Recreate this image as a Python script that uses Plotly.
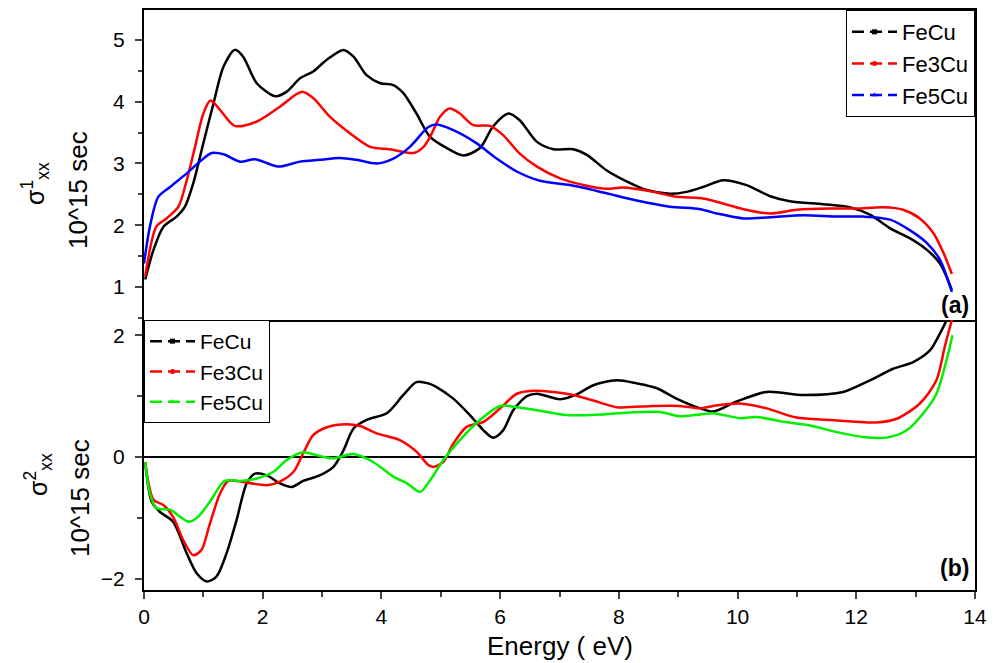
import plotly.graph_objects as go

# ---------------- data: panel (a) sigma1_xx ----------------
e_fecu_a = [0.02, 0.16, 0.33, 0.55, 0.69, 0.83, 1.0, 1.17, 1.34, 1.53, 1.67, 1.90, 2.21, 2.40, 2.63, 2.85, 3.08, 3.36, 3.53, 3.75, 3.98, 4.20, 4.37, 4.59, 4.82, 5.10, 5.38, 5.66, 5.88, 6.14, 6.33, 6.62, 6.90, 7.23, 7.46, 7.79, 8.13, 8.47, 8.86, 9.14, 9.42, 9.76, 10.15, 10.55, 10.88, 11.44, 11.89, 12.23, 12.57, 12.90, 13.19, 13.41, 13.61]
s1_fecu = [1.12, 1.6, 1.98, 2.14, 2.30, 2.68, 3.33, 3.97, 4.57, 4.84, 4.73, 4.30, 4.09, 4.16, 4.38, 4.49, 4.68, 4.84, 4.73, 4.43, 4.30, 4.27, 4.14, 3.81, 3.43, 3.25, 3.13, 3.25, 3.60, 3.81, 3.70, 3.35, 3.23, 3.23, 3.14, 2.89, 2.71, 2.57, 2.51, 2.54, 2.62, 2.73, 2.65, 2.47, 2.39, 2.34, 2.29, 2.17, 1.95, 1.79, 1.60, 1.38, 0.95]

e_fe3cu_a = [0.02, 0.21, 0.38, 0.58, 0.72, 0.86, 1.0, 1.12, 1.28, 1.53, 1.90, 2.29, 2.66, 2.85, 3.13, 3.47, 3.81, 4.14, 4.54, 4.71, 4.82, 4.99, 5.15, 5.32, 5.55, 5.83, 6.05, 6.33, 6.62, 7.01, 7.46, 7.79, 8.07, 8.58, 8.97, 9.37, 9.65, 10.10, 10.55, 11.0, 11.56, 12.0, 12.46, 12.79, 13.07, 13.30, 13.47, 13.61]
s1_fe3cu = [1.17, 1.98, 2.11, 2.30, 2.73, 3.27, 3.81, 4.02, 3.87, 3.61, 3.68, 3.92, 4.16, 4.06, 3.76, 3.49, 3.27, 3.23, 3.17, 3.27, 3.43, 3.76, 3.89, 3.81, 3.62, 3.61, 3.46, 3.16, 2.95, 2.76, 2.64, 2.59, 2.61, 2.54, 2.46, 2.44, 2.38, 2.26, 2.19, 2.25, 2.27, 2.27, 2.29, 2.25, 2.11, 1.87, 1.55, 1.21]

e_fe5cu_a = [0.0, 0.1, 0.24, 0.44, 0.72, 0.94, 1.14, 1.34, 1.62, 1.87, 2.26, 2.63, 2.96, 3.30, 3.58, 3.92, 4.20, 4.48, 4.79, 4.93, 5.21, 5.60, 5.94, 6.28, 6.67, 7.18, 7.74, 8.30, 8.86, 9.37, 9.65, 10.10, 10.55, 11.11, 11.67, 12.12, 12.57, 12.90, 13.19, 13.41, 13.61]
s1_fe5cu = [1.38, 1.98, 2.46, 2.62, 2.84, 3.03, 3.17, 3.15, 3.03, 3.07, 2.95, 3.03, 3.06, 3.09, 3.06, 3.0, 3.08, 3.27, 3.59, 3.63, 3.54, 3.33, 3.08, 2.87, 2.72, 2.65, 2.53, 2.40, 2.30, 2.26, 2.19, 2.11, 2.13, 2.16, 2.14, 2.14, 2.09, 1.92, 1.71, 1.44, 0.92]

# ---------------- data: panel (b) sigma2_xx ----------------
e_fecu_b = [0.02, 0.13, 0.27, 0.49, 0.72, 0.89, 1.06, 1.22, 1.39, 1.56, 1.73, 1.87, 2.07, 2.29, 2.49, 2.68, 2.96, 3.19, 3.36, 3.53, 3.75, 4.09, 4.37, 4.59, 4.79, 4.93, 5.21, 5.49, 5.72, 5.88, 6.05, 6.22, 6.45, 6.62, 7.01, 7.29, 7.57, 7.96, 8.30, 8.64, 8.97, 9.37, 9.59, 9.98, 10.49, 11.11, 11.78, 12.23, 12.62, 12.96, 13.24, 13.41, 13.52, 13.58]
s2_fecu = [-0.08, -0.73, -0.90, -1.06, -1.58, -1.91, -2.04, -1.96, -1.58, -1.03, -0.43, -0.27, -0.30, -0.43, -0.49, -0.39, -0.30, -0.16, 0.11, 0.47, 0.61, 0.72, 1.02, 1.23, 1.21, 1.15, 0.96, 0.69, 0.44, 0.32, 0.44, 0.77, 1.0, 1.04, 0.95, 1.03, 1.18, 1.26, 1.21, 1.13, 0.96, 0.80, 0.75, 0.91, 1.07, 1.02, 1.07, 1.26, 1.45, 1.56, 1.75, 2.03, 2.25, 2.45]

e_fe3cu_b = [0.02, 0.16, 0.33, 0.49, 0.66, 0.83, 0.97, 1.11, 1.28, 1.42, 1.62, 2.07, 2.29, 2.52, 2.68, 2.85, 3.08, 3.41, 3.64, 3.92, 4.31, 4.59, 4.79, 4.87, 5.04, 5.21, 5.44, 5.72, 6.0, 6.28, 6.56, 6.90, 7.23, 7.57, 7.96, 8.58, 9.03, 9.37, 9.59, 10.04, 10.49, 10.99, 11.56, 12.34, 12.68, 13.07, 13.35, 13.49, 13.61]
s2_fe3cu = [-0.08, -0.70, -0.79, -0.98, -1.36, -1.61, -1.52, -1.09, -0.60, -0.39, -0.40, -0.46, -0.40, -0.24, 0.06, 0.36, 0.49, 0.54, 0.51, 0.39, 0.28, 0.09, -0.13, -0.16, -0.08, 0.22, 0.50, 0.58, 0.80, 1.04, 1.09, 1.07, 1.02, 0.93, 0.82, 0.84, 0.84, 0.80, 0.84, 0.88, 0.80, 0.65, 0.61, 0.57, 0.63, 0.88, 1.26, 1.81, 2.25]

e_fe5cu_b = [0.02, 0.1, 0.21, 0.44, 0.61, 0.75, 0.91, 1.11, 1.36, 1.62, 1.90, 2.18, 2.40, 2.68, 2.91, 3.19, 3.53, 3.86, 4.20, 4.43, 4.65, 4.82, 5.04, 5.32, 5.66, 6.0, 6.28, 6.62, 7.12, 7.74, 8.13, 8.69, 9.03, 9.37, 9.59, 10.04, 10.32, 10.77, 11.22, 11.67, 12.12, 12.51, 12.85, 13.13, 13.35, 13.52, 13.62]
s2_fe5cu = [-0.08, -0.60, -0.84, -0.86, -0.98, -1.06, -0.98, -0.73, -0.39, -0.39, -0.35, -0.24, -0.05, 0.08, 0.03, -0.02, 0.05, -0.08, -0.32, -0.43, -0.57, -0.38, -0.05, 0.28, 0.61, 0.84, 0.82, 0.77, 0.69, 0.70, 0.73, 0.74, 0.67, 0.70, 0.72, 0.64, 0.66, 0.58, 0.52, 0.41, 0.33, 0.32, 0.44, 0.72, 1.04, 1.59, 2.0]

names = ["FeCu", "Fe3Cu", "Fe5Cu"]
colors_a = ["#000000", "#ff0000", "#0000ff"]
colors_b = ["#000000", "#ff0000", "#00ee00"]
symbols = ["square", "circle", "triangle-up"]

FONT = "Liberation Sans, Arial, sans-serif"
fig = go.Figure()

series_a = [(e_fecu_a, s1_fecu), (e_fe3cu_a, s1_fe3cu), (e_fe5cu_a, s1_fe5cu)]
series_b = [(e_fecu_b, s2_fecu), (e_fe3cu_b, s2_fe3cu), (e_fe5cu_b, s2_fe5cu)]

for i, (x, y) in enumerate(series_a):
    fig.add_trace(go.Scatter(x=x, y=y, mode="lines", name=names[i], xaxis="x", yaxis="y",
                             line=dict(color=colors_a[i], width=2.5, shape="spline", smoothing=0.8),
                             showlegend=False))
    fig.add_trace(go.Scatter(x=[None], y=[None], mode="lines+markers", name=names[i], xaxis="x", yaxis="y",
                             line=dict(color=colors_a[i], width=2.5, dash="12px,6px"),
                             marker=dict(symbol=symbols[i], size=5, color=colors_a[i]),
                             legend="legend"))

for i, (x, y) in enumerate(series_b):
    fig.add_trace(go.Scatter(x=x, y=y, mode="lines", name=names[i], xaxis="x2", yaxis="y2",
                             line=dict(color=colors_b[i], width=2.5, shape="spline", smoothing=0.8),
                             showlegend=False))
    fig.add_trace(go.Scatter(x=[None], y=[None], mode="lines+markers", name=names[i], xaxis="x2", yaxis="y2",
                             line=dict(color=colors_b[i], width=2.5, dash="12px,6px"),
                             marker=dict(symbol=symbols[i], size=5, color=colors_b[i]),
                             legend="legend2"))

# figure is drawn 8px in from the page corner (body margin), so size is reduced accordingly
W, H = 995, 655
ML, MR, MT, MB = 136, 28, 2, 73
PH = H - MT - MB
split = 270 / PH

TICKF = dict(family=FONT, size=21, color="black")
axis_common = dict(showline=True, linecolor="black", linewidth=2,
                   showgrid=False, zeroline=False, automargin=False, tickfont=TICKF)

fig.update_layout(
    width=W, height=H,
    margin=dict(l=ML, r=MR, t=MT, b=MB),
    paper_bgcolor="white", plot_bgcolor="white",
    font=dict(family=FONT, color="black"),
    xaxis=dict(**axis_common, mirror=True, domain=[0, 1], range=[0, 14], anchor="y",
               showticklabels=False, ticks="", matches="x2"),
    yaxis=dict(**axis_common, mirror=True, domain=[split, 1], range=[0.465, 5.486], anchor="x",
               ticks="outside", ticklen=7, tickwidth=2, dtick=1, tick0=0, ticklabelstandoff=6,
               minor=dict(ticks="outside", ticklen=4, tickwidth=2, dtick=0.5, tick0=0)),
    xaxis2=dict(**axis_common, mirror=False, domain=[0, 1], range=[0, 14], anchor="y2",
                ticks="outside", ticklen=7, tickwidth=2, dtick=2, tick0=0,
                minor=dict(ticks="outside", ticklen=5, tickwidth=2, dtick=1, tick0=0)),
    yaxis2=dict(**{**axis_common, "zeroline": True}, mirror=True, zerolinecolor="black", zerolinewidth=2,
                domain=[0, split], range=[-2.18, 2.25], anchor="x2",
                ticks="outside", ticklen=7, tickwidth=2, dtick=2, tick0=0, ticklabelstandoff=6,
                minor=dict(ticks="outside", ticklen=5, tickwidth=2, dtick=1, tick0=0)),
    legend=dict(x=1, y=1, xanchor="right", yanchor="top", xref="paper", yref="paper",
                bgcolor="white", bordercolor="black", borderwidth=1, itemwidth=45,
                font=dict(family=FONT, size=22, color="black"), tracegroupgap=0),
    legend2=dict(x=0, y=split, xanchor="left", yanchor="top", xref="paper", yref="paper",
                 bgcolor="white", bordercolor="black", borderwidth=1, itemwidth=45,
                 font=dict(family=FONT, size=21, color="black"), tracegroupgap=0),
)

def ytitle(text, page_x, page_y, size):
    fig.add_annotation(text=text, textangle=-90, showarrow=False,
                       xref="paper", yref="paper", x=0, y=(H - MB - (page_y - 8)) / PH,
                       xanchor="center", yanchor="middle", xshift=page_x - (ML + 8),
                       font=dict(family=FONT, size=size, color="black"))

ytitle("σ<sup>1</sup><sub>xx</sub>", 35, 184, 25)
ytitle("10^15 sec", 78, 190, 26)
ytitle("σ<sup>2</sup><sub>xx</sub>", 38, 475, 25)
ytitle("10^15 sec", 80, 498, 26)

# x-axis title
fig.add_annotation(text="Energy ( eV)", showarrow=False, xref="paper", yref="paper",
                   x=0.5, y=0, xanchor="center", yanchor="middle", yshift=-56,
                   font=dict(family=FONT, size=26, color="black"))

fig.add_annotation(text="<b>(a)</b>", x=1, y=split, xref="paper", yref="paper", xanchor="right",
                   yanchor="bottom", showarrow=False, font=dict(family=FONT, size=23, color="black"),
                   xshift=-4, yshift=0)
fig.add_annotation(text="<b>(b)</b>", x=1, y=0, xref="paper", yref="paper", xanchor="right",
                   yanchor="bottom", showarrow=False, font=dict(family=FONT, size=23, color="black"),
                   xshift=-4, yshift=7)

fig.write_html("out.html")
